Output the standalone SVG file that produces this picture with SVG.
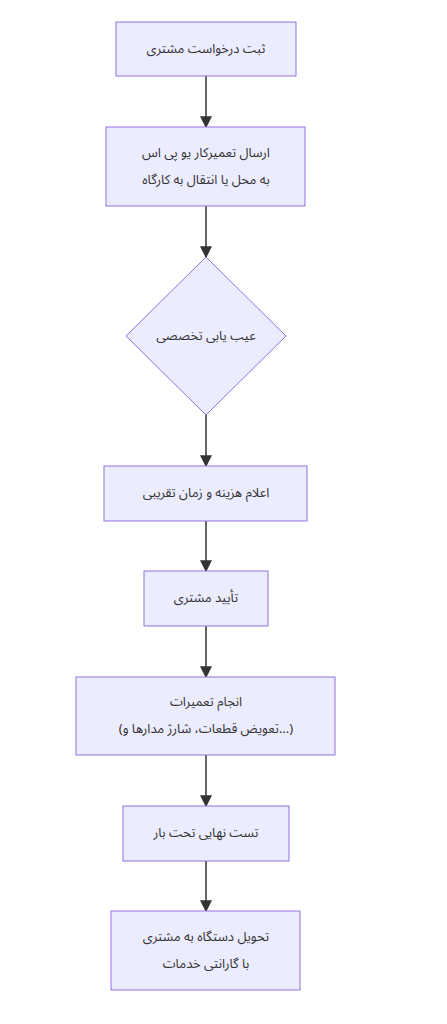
<svg xmlns="http://www.w3.org/2000/svg" width="447" height="1024" viewBox="0 0 447 1024">
<style>
.node rect, .node polygon { fill: #ECECFF; stroke: #9370DB; stroke-width: 1px; }
.label { font-family: "Noto Sans Arabic", "DejaVu Sans", sans-serif; font-size: 13px; fill: #333; text-anchor: middle; dominant-baseline: central; }
.edge { stroke: #333333; stroke-width: 1.5px; fill: none; }
</style>
<defs>
<marker id="arrow" viewBox="0 0 10 10" refX="9" refY="5" markerUnits="userSpaceOnUse" markerWidth="12" markerHeight="12" orient="auto">
<path d="M0,0 L10,5 L0,10 z" fill="#333333"/>
</marker>
</defs>
<rect width="447" height="1024" fill="#ffffff"/>
<g id="edges">
<path class="edge" d="M206,76 L206,127" marker-end="url(#arrow)"/>
<path class="edge" d="M206,206 L206,257" marker-end="url(#arrow)"/>
<path class="edge" d="M206,415 L206,466" marker-end="url(#arrow)"/>
<path class="edge" d="M206,521 L206,571" marker-end="url(#arrow)"/>
<path class="edge" d="M206,626 L206,677" marker-end="url(#arrow)"/>
<path class="edge" d="M206,755 L206,806" marker-end="url(#arrow)"/>
<path class="edge" d="M206,861 L206,911" marker-end="url(#arrow)"/>
</g>
<g id="n1" class="node">
<rect x="116" y="22" width="180" height="54"/>
<text class="label" x="206" y="49">ثبت درخواست مشتری</text>
</g>
<g id="n2" class="node">
<rect x="106" y="127" width="199" height="79"/>
<text class="label" x="206" y="153"><tspan x="206" y="153">ارسال تعمیرکار یو پی اس</tspan><tspan x="206" y="179.5">به محل یا انتقال به کارگاه</tspan></text>
</g>
<g id="n3" class="node">
<polygon points="206,257 286,336 206,415 126,336"/>
<text class="label" x="206" y="336">عیب یابی تخصصی</text>
</g>
<g id="n4" class="node">
<rect x="104" y="466" width="203" height="55"/>
<text class="label" x="206" y="493">اعلام هزینه و زمان تقریبی</text>
</g>
<g id="n5" class="node">
<rect x="144" y="571" width="124" height="55"/>
<text class="label" x="206" y="598">تأیید مشتری</text>
</g>
<g id="n6" class="node">
<rect x="76" y="677" width="259" height="78"/>
<text class="label" x="206" y="702"><tspan x="206" y="702">انجام تعمیرات</tspan><tspan x="206" y="728.5">(تعویض قطعات، شارژ مدارها و...)</tspan></text>
</g>
<g id="n7" class="node">
<rect x="123" y="806" width="166" height="55"/>
<text class="label" x="206" y="833">تست نهایی تحت بار</text>
</g>
<g id="n8" class="node">
<rect x="111" y="911" width="189" height="79"/>
<text class="label" x="206" y="937"><tspan x="206" y="937">تحویل دستگاه به مشتری</tspan><tspan x="206" y="963.5">با گارانتی خدمات</tspan></text>
</g>
</svg>
